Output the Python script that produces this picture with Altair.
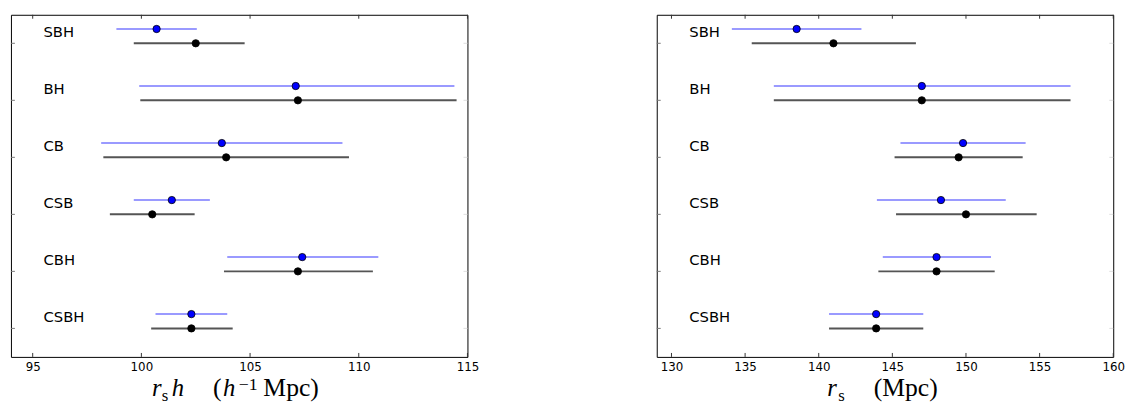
import altair as alt
import pandas as pd

cats = ["SBH", "BH", "CB", "CSB", "CBH", "CSBH"]

# left panel: r_s h  (h^-1 Mpc)
L_blue_c = [100.7, 107.1, 103.7, 101.4, 107.4, 102.3]
L_blue_lo = [98.85, 99.9, 98.15, 99.65, 103.95, 100.65]
L_blue_hi = [102.55, 114.4, 109.25, 103.15, 110.9, 103.95]
L_black_c = [102.5, 107.2, 103.9, 100.5, 107.2, 102.3]
L_black_lo = [99.65, 99.95, 98.25, 98.55, 103.8, 100.45]
L_black_hi = [104.75, 114.5, 109.55, 102.45, 110.65, 104.2]
L_ticks = [95, 100, 105, 110, 115]

# right panel: r_s  (Mpc)
R_blue_c = [138.5, 147.0, 149.8, 148.3, 148.0, 143.9]
R_blue_lo = [134.1, 136.95, 145.55, 143.95, 144.35, 140.7]
R_blue_hi = [142.9, 157.1, 154.05, 152.7, 151.7, 147.1]
R_black_c = [141.0, 147.0, 149.5, 150.0, 148.0, 143.9]
R_black_lo = [135.45, 136.95, 145.15, 145.25, 144.05, 140.7]
R_black_hi = [146.6, 157.1, 153.85, 154.8, 151.95, 147.1]
R_ticks = [130, 135, 140, 145, 150, 155, 160]

W, H = 463, 347
BLUE_OFF = -14.5


def panel(bc, blo, bhi, kc, klo, khi, ticks, domain, title_pieces):
    df = pd.DataFrame({
        "cat": cats,
        "row": list(range(len(cats))),
        "bc": bc, "blo": blo, "bhi": bhi,
        "kc": kc, "klo": klo, "khi": khi,
    })
    xs = alt.Scale(domain=domain, nice=False, zero=False)
    ys = alt.Scale(domain=[-0.5, len(cats) - 0.5], reverse=True, nice=False, zero=False)
    xaxis = alt.Axis(values=ticks, ticks=False, domain=False, grid=False,
                     labelFont="DejaVu Sans", labelFontSize=12, labelColor="black",
                     labelPadding=5, labelFlush=False, labelOverlap=False, format="d")
    base = alt.Chart(df)
    yenc = alt.Y("row:Q", scale=ys, axis=None)

    blue_bar = base.mark_rule(color="#9a9aff", strokeWidth=2).encode(
        x=alt.X("blo:Q", scale=xs, axis=xaxis, title=None), x2="bhi:Q", y=yenc,
        yOffset=alt.value(BLUE_OFF))
    black_bar = base.mark_rule(color="#555555", strokeWidth=2).encode(
        x=alt.X("klo:Q", scale=xs), x2="khi:Q", y=yenc)
    blue_pt = base.mark_point(filled=True, fill="#0000ff", stroke="black",
                              strokeWidth=0.8, size=55, opacity=1).encode(
        x=alt.X("bc:Q", scale=xs), y=yenc, yOffset=alt.value(BLUE_OFF))
    black_pt = base.mark_point(filled=True, fill="black", stroke="black",
                               strokeWidth=0.8, size=55, opacity=1).encode(
        x=alt.X("kc:Q", scale=xs), y=yenc)
    labels = base.mark_text(align="left", baseline="middle", font="DejaVu Sans",
                            fontSize=15, color="black").encode(
        x=alt.value(33), y=yenc, yOffset=alt.value(-11), text="cat:N")

    tdf = pd.DataFrame({"t": ticks})
    tick_b = alt.Chart(tdf).mark_rule(color="#333333", strokeWidth=1).encode(
        x=alt.X("t:Q", scale=xs), y=alt.value(H), y2=alt.value(H - 4))
    tick_t = alt.Chart(tdf).mark_rule(color="#333333", strokeWidth=1).encode(
        x=alt.X("t:Q", scale=xs), y=alt.value(0), y2=alt.value(4))
    ytick_l = base.mark_rule(color="#777777", strokeWidth=1).encode(
        x=alt.value(0), x2=alt.value(4), y=yenc)
    ytick_r = base.mark_rule(color="#dddddd", strokeWidth=1).encode(
        x=alt.value(W - 4), x2=alt.value(W), y=yenc)

    layers = [blue_bar, black_bar, blue_pt, black_pt, labels,
              tick_b, tick_t, ytick_l, ytick_r]
    for txt, px, py, size, style in title_pieces:
        layers.append(
            alt.Chart(pd.DataFrame({"t": [txt]})).mark_text(
                align="left", baseline="alphabetic", font="Liberation Serif",
                fontSize=size, fontStyle=style, color="black").encode(
                x=alt.value(px), y=alt.value(py), text="t:N"))
    return alt.layer(*layers).properties(width=W, height=H)


BL = 387
left_title = [
    ("r", 143, BL, 25, "italic"),
    ("s", 153, BL + 4.5, 17, "normal"),
    ("h", 163, BL, 25, "italic"),
    ("(", 205, BL, 26, "normal"),
    ("h", 215, BL, 25, "italic"),
    ("\u22121", 231, BL - 6, 18, "normal"),
    ("Mpc)", 256, BL, 26, "normal"),
]
right_title = [
    ("r", 173, BL, 25, "italic"),
    ("s", 184, BL + 4.5, 17, "normal"),
    ("(Mpc)", 220, BL, 26, "normal"),
]

left = panel(L_blue_c, L_blue_lo, L_blue_hi, L_black_c, L_black_lo, L_black_hi,
             L_ticks, [94, 115], left_title)
right = panel(R_blue_c, R_blue_lo, R_blue_hi, R_black_c, R_black_lo, R_black_hi,
              R_ticks, [129, 160], right_title)

chart = alt.hconcat(left, right, spacing=179).properties(
    padding={"left": 2, "top": 3, "right": 5, "bottom": 5}
).configure_view(stroke="black", strokeWidth=1)

chart.save("out.html", embed_options={"renderer": "svg", "actions": False})
